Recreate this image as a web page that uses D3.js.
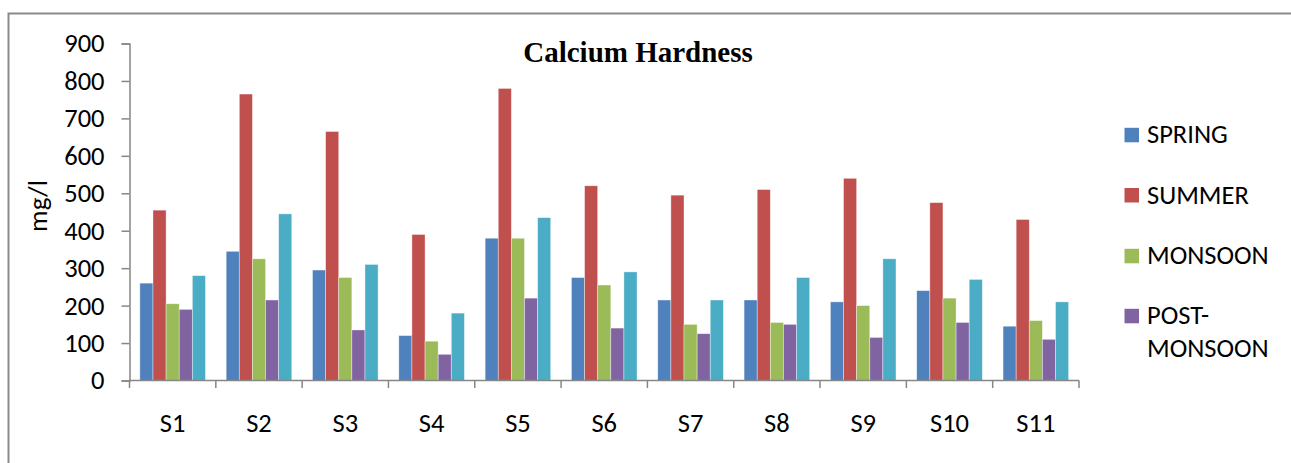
<!DOCTYPE html>
<html>
<head>
<meta charset="utf-8">
<script src="https://cdn.jsdelivr.net/npm/d3@7/dist/d3.min.js"></script>
<style>
  html, body { margin: 0; padding: 0; background: #fff; overflow: hidden; }
  svg { display: block; }
</style>
</head>
<body>
<svg id="chart" width="1291" height="463"></svg>
<script>
const categories = ["S1","S2","S3","S4","S5","S6","S7","S8","S9","S10","S11"];
const seriesNames = ["SPRING","SUMMER","MONSOON","POST-MONSOON","WINTER"];
const spring      = [260, 345, 295, 120, 380, 275, 215, 215, 210, 240, 145];
const summer      = [455, 765, 665, 390, 780, 520, 495, 510, 540, 475, 430];
const monsoon     = [205, 325, 275, 105, 380, 255, 150, 155, 200, 220, 160];
const postMonsoon = [190, 215, 135,  70, 220, 140, 125, 150, 115, 155, 110];
const winter      = [280, 445, 310, 180, 435, 290, 215, 275, 325, 270, 210];
const yTicks = [0, 100, 200, 300, 400, 500, 600, 700, 800, 900];
const legendNames = ["SPRING","SUMMER","MONSOON","POST-MONSOON"];
const colors = ["#4F81BD","#C0504D","#9BBB59","#8064A2","#4BACC6"];

const seriesValues = [spring, summer, monsoon, postMonsoon, winter];
const font = "Carlito, Calibri, 'Open Sans', sans-serif";
const fs = 26.5;

const svg = d3.select("#chart");

// frame (left and top edges visible)
svg.append("path")
  .attr("d", "M8.5,470 L8.5,13.5 L1300,13.5")
  .attr("fill", "none").attr("stroke", "#8a8a8a").attr("stroke-width", 2);

const plot = { left: 129.5, right: 1079, top: 43.5, bottom: 380.5 };

const x0 = d3.scaleBand().domain(categories).range([plot.left, plot.right]).padding(0);
const x1 = d3.scaleBand().domain(d3.range(seriesNames.length)).range([0, x0.bandwidth()])
  .paddingInner(0).paddingOuter(0.79);
const y = d3.scaleLinear().domain([0, 900]).range([plot.bottom, plot.top]);

// bars
const groups = svg.append("g").selectAll("g").data(categories).join("g")
  .attr("transform", d => `translate(${x0(d)},0)`);
groups.selectAll("rect")
  .data((d, i) => seriesValues.map((vals, s) => ({ s, v: vals[i] })))
  .join("rect")
  .attr("x", d => x1(d.s))
  .attr("width", x1.bandwidth())
  .attr("y", d => y(d.v))
  .attr("height", d => y(0) - y(d.v))
  .attr("fill", d => colors[d.s])
  .attr("stroke", "rgba(255,255,255,0.55)")
  .attr("stroke-width", 0.7);

// y axis
const yAxis = d3.axisLeft(y).tickValues(yTicks).tickSize(8).tickPadding(17).tickFormat(d3.format("d"));
const yg = svg.append("g").attr("transform", `translate(${plot.left},0)`).call(yAxis);
yg.select(".domain").attr("stroke", "#868686").attr("stroke-width", 1.5);
yg.selectAll(".tick line").attr("stroke", "#868686").attr("stroke-width", 1.5);
yg.selectAll("text").attr("font-family", font).attr("font-size", fs).attr("fill", "#000");

// x axis
const xTickPos = categories.map(c => x0(c)).concat([plot.right]);
const xg = svg.append("g");
xg.append("line")
  .attr("x1", plot.left).attr("x2", plot.right).attr("y1", y(0)).attr("y2", y(0))
  .attr("stroke", "#868686").attr("stroke-width", 1.5);
xg.selectAll("line.tk").data(xTickPos).join("line").attr("class", "tk")
  .attr("x1", d => d).attr("x2", d => d).attr("y1", y(0)).attr("y2", y(0) + 7.5)
  .attr("stroke", "#868686").attr("stroke-width", 1.5);
xg.selectAll("text").data(categories).join("text")
  .attr("x", d => x0(d) + x0.bandwidth() / 2)
  .attr("y", 431.5)
  .attr("text-anchor", "middle")
  .attr("font-family", font).attr("font-size", fs).attr("fill", "#000")
  .text(d => d);

// y label
svg.append("text")
  .attr("transform", "translate(47,206) rotate(-90)")
  .attr("text-anchor", "middle")
  .attr("font-family", font).attr("font-size", 27).attr("fill", "#000")
  .text("mg/l");

// title
svg.append("text")
  .attr("x", 638).attr("y", 61.5)
  .attr("text-anchor", "middle")
  .attr("font-family", "'Liberation Serif', 'Times New Roman', serif")
  .attr("font-weight", "bold").attr("font-size", 29).attr("fill", "#000")
  .text("Calcium Hardness");

// legend
const legendBaselines = [143.3, 203.5, 264.3, 324.3];
const lg = svg.append("g");
legendNames.forEach((name, i) => {
  const by = legendBaselines[i];
  lg.append("rect")
    .attr("x", 1124.5).attr("y", by - 15.5).attr("width", 14.5).attr("height", 14.5)
    .attr("fill", colors[i]);
  const t = lg.append("text")
    .attr("x", 1147).attr("y", by)
    .attr("font-family", font).attr("font-size", fs).attr("fill", "#000");
  if (name === "POST-MONSOON") {
    t.append("tspan").attr("x", 1147).text("POST-");
    t.append("tspan").attr("x", 1147).attr("dy", 32.4).text("MONSOON");
  } else {
    t.text(name);
  }
});
</script>
</body>
</html>
